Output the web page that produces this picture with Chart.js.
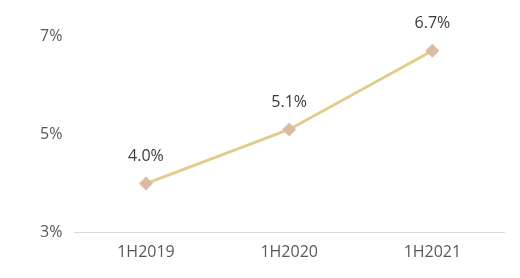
<!DOCTYPE html>
<html>
<head>
<meta charset="utf-8">
<script src="https://cdn.jsdelivr.net/npm/chart.js@4"></script>
<style>
  html, body { margin: 0; padding: 0; background: #fff; }
  #wrap { width: 520px; height: 278px; }
</style>
</head>
<body>
<div id="wrap"><canvas id="grafico"></canvas></div>
<script>
const periodos = ['1H2019', '1H2020', '1H2021'];
const valores = [4.0, 5.1, 6.7];
const rotulos = ['4.0%', '5.1%', '6.7%'];

// escreve o rótulo acima de cada ponto
const rotulosPlugin = {
    id: 'rotulos',
    afterDatasetsDraw(chart) {
        const ctx = chart.ctx;
        const meta = chart.getDatasetMeta(0);
        ctx.save();
        ctx.font = '16px "Open Sans", sans-serif';
        ctx.fillStyle = '#3a3a3a';
        ctx.textAlign = 'center';
        ctx.textBaseline = 'middle';
        meta.data.forEach((pt, i) => {
            ctx.fillText(rotulos[i], pt.x, pt.y - 27);
        });
        ctx.restore();
    }
};

new Chart(document.getElementById('grafico'), {
    type: 'line',
    data: {
        labels: periodos,
        datasets: [{
            data: valores,
            borderColor: '#e2cc8c',
            borderWidth: 3,
            pointStyle: 'rectRot',
            pointRadius: 7,
            pointBackgroundColor: '#dcbba3',
            pointBorderColor: '#dcbba3',
            pointBorderWidth: 0,
            tension: 0
        }]
    },
    options: {
        responsive: true,
        maintainAspectRatio: false,
        animation: false,
        layout: { padding: { left: 28, right: 16, top: 36, bottom: 6 } },
        plugins: { legend: { display: false }, tooltip: { enabled: false } },
        scales: {
            x: {
                offset: true,
                grid: { display: false, drawTicks: false },
                border: { display: true, color: '#d9d9d9', width: 1 },
                ticks: { color: '#595959', font: { size: 16, family: '"Open Sans", sans-serif' }, padding: 10 }
            },
            y: {
                min: 3,
                max: 7,
                grid: { display: false, drawTicks: false },
                border: { display: false },
                ticks: {
                    stepSize: 2,
                    color: '#595959',
                    padding: 12,
                    font: { size: 16, family: '"Open Sans", sans-serif' },
                    callback: v => v + '%'
                }
            }
        }
    },
    plugins: [rotulosPlugin]
});
</script>
</body>
</html>
